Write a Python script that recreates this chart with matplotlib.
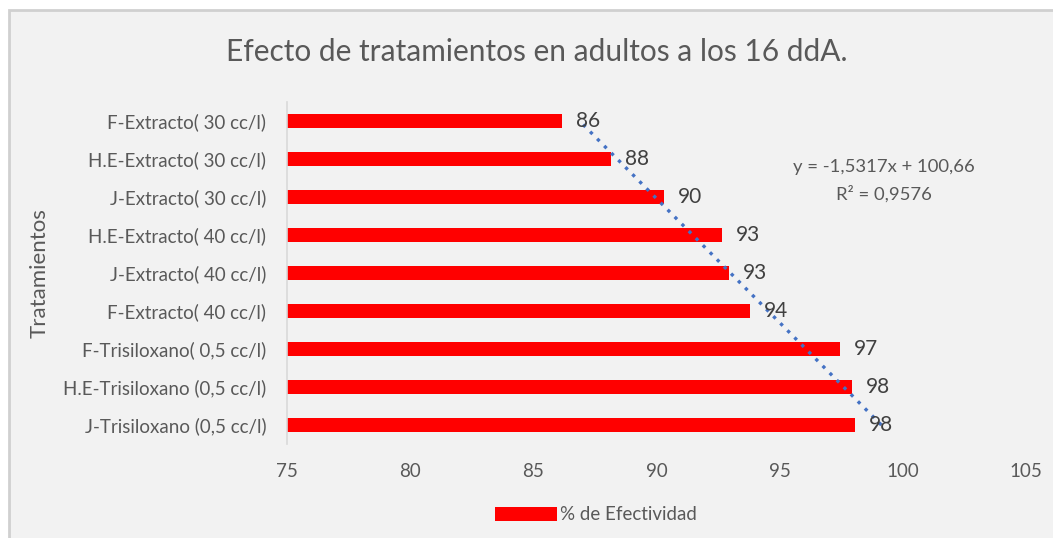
import numpy as np
import matplotlib
matplotlib.use("Agg")
import matplotlib.pyplot as plt
from matplotlib.patches import Rectangle

plt.rcParams['font.family'] = ['Lato', 'DejaVu Sans']

# categories bottom to top (Excel order)
tratamientos = ["J-Trisiloxano (0,5 cc/l)",
                "H.E-Trisiloxano (0,5 cc/l)",
                "F-Trisiloxano( 0,5 cc/l)",
                "F-Extracto( 40 cc/l)",
                "J-Extracto( 40 cc/l)",
                "H.E-Extracto( 40 cc/l)",
                "J-Extracto( 30 cc/l)",
                "H.E-Extracto( 30 cc/l)",
                "F-Extracto( 30 cc/l)"]
efectividad = [98.05, 97.93, 97.45, 93.79, 92.94, 92.65, 90.30, 88.15, 86.16]

# linear trendline as printed on the chart
pendiente = -1.5317
intercepto = 100.66
r2 = 0.9576

xticks = [75, 80, 85, 90, 95, 100, 105]

gris = '#595959'
fondo = '#f2f2f2'

fig = plt.figure(figsize=(10.53, 5.38), dpi=100)
fig.patch.set_facecolor('white')
# chart area with light border (only top/left visible in the crop)
fig.patches.append(Rectangle((9 / 1053, -0.05), 1.1, (538 - 10) / 538 + 0.05,
                             transform=fig.transFigure, facecolor=fondo,
                             edgecolor='#d0d0d0', linewidth=2, zorder=-10))

ax = fig.add_axes([287 / 1053, 94 / 538, 739 / 1053, 342 / 538])
ax.set_facecolor(fondo)
ax.patch.set_alpha(0)

pos = np.arange(1, len(tratamientos) + 1)
ax.barh(pos, efectividad, height=0.37, left=0, color='#ff0000',
        label='% de Efectividad', zorder=2)

for p, v in zip(pos, efectividad):
    ax.annotate(f"{v:.0f}", (v, p), xytext=(10, 0), textcoords='offset points',
                va='center', ha='left', fontsize=15, color='#404040', zorder=4)

xs = np.array([pos[0], pos[-1]])
ax.plot(intercepto + pendiente * xs, xs, linestyle=(0, (1, 2)),
        color='#4472c4', linewidth=2.4, zorder=3)

ax.set_xlim(75, 105)
ax.set_ylim(0.5, len(tratamientos) + 0.5)
ax.set_xticks(xticks)
ax.set_yticks(pos)
ax.set_yticklabels(tratamientos)
ax.tick_params(axis='both', length=0, colors=gris, labelsize=13.5)
ax.tick_params(axis='x', pad=14)
ax.tick_params(axis='y', pad=15)

for s in ['top', 'right', 'bottom']:
    ax.spines[s].set_visible(False)
ax.spines['left'].set_color('#d9d9d9')
ax.spines['left'].set_linewidth(1.2)

ax.set_ylabel('Tratamientos', fontsize=16, color=gris)
ax.yaxis.set_label_coords((50 - 287) / 739, 0.5)

fig.text(537 / 1053, 1 - 52 / 538, 'Efecto de tratamientos en adultos a los 16 ddA.',
         ha='center', va='center', fontsize=21.5, color=gris)

eq = f"y = {pendiente:.4f}x + {intercepto:.2f}".replace('.', ',')
ax.text(884 / 1053, 1 - 167 / 538, eq, transform=fig.transFigure,
        ha='center', va='center', fontsize=13.3, color=gris)
ax.text(884 / 1053, 1 - 194 / 538, f"R² = {r2:.4f}".replace('.', ','),
        transform=fig.transFigure, ha='center', va='center', fontsize=13.3, color=gris)

fig.legend(loc='center', bbox_to_anchor=(596 / 1053, 1 - 515 / 538), frameon=False,
           fontsize=13.5, labelcolor=gris, handlelength=3.3, handleheight=0.8,
           handletextpad=0.2)

fig.savefig('out.png', dpi=100, facecolor=fig.get_facecolor())
